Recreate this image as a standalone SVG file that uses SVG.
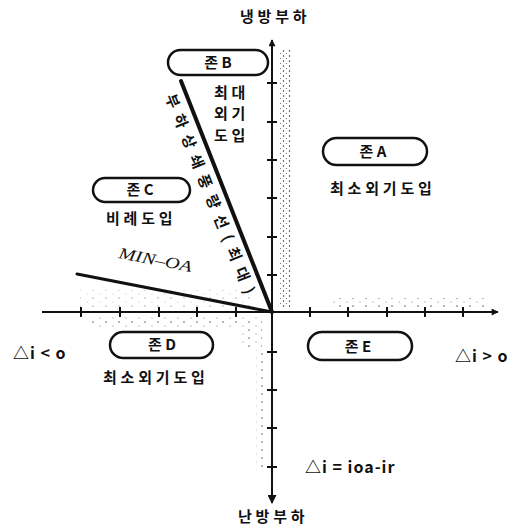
<svg xmlns="http://www.w3.org/2000/svg" width="523" height="530" viewBox="0 0 523 530">
<style>
.ko{font-family:"Noto Sans CJK KR","Noto Sans",sans-serif;font-weight:bold;fill:#111;}
.lbl{font-size:15px;letter-spacing:3.8px;}
.zt{font-size:15px;text-anchor:middle;}
.pill{fill:#fff;stroke:#111;stroke-width:2.5;}
.axis{stroke:#111;stroke-width:2;fill:none;}
.tick{stroke:#111;stroke-width:2;}
.math{font-family:"Noto Sans CJK KR","DejaVu Sans",sans-serif;font-weight:bold;font-size:16px;fill:#111;letter-spacing:1px;}
</style>
<defs>
<pattern id="dense" width="6" height="5" patternUnits="userSpaceOnUse">
<circle cx="1.5" cy="1" r="0.7" fill="#222"/>
<circle cx="4.5" cy="3.5" r="0.5" fill="#444"/>
</pattern>
<pattern id="sparse" width="13" height="8" patternUnits="userSpaceOnUse">
<circle cx="2" cy="2" r="0.7" fill="#333"/>
<circle cx="9" cy="6" r="0.5" fill="#555"/>
</pattern>
<marker id="ah" viewBox="0 0 10 10" refX="9" refY="5" markerWidth="9" markerHeight="7" markerUnits="userSpaceOnUse" orient="auto">
<path d="M0,0 L10,5 L0,10 z" fill="#111"/>
</marker>
<marker id="ahb" viewBox="0 0 10 10" refX="9" refY="5" markerWidth="22" markerHeight="9" markerUnits="userSpaceOnUse" orient="auto">
<path d="M0,0 L10,5 L0,10 z" fill="#111"/>
</marker>
</defs>
<rect width="523" height="530" fill="#fff"/>

<g id="stipple">
<rect x="278" y="50" width="14" height="258" fill="url(#dense)"/>
<rect x="330" y="298" width="155" height="9" fill="url(#sparse)"/>
<rect x="88" y="317" width="150" height="10" fill="url(#sparse)"/>
<rect x="242" y="317" width="20" height="30" fill="url(#sparse)"/>
<rect x="256" y="350" width="11" height="120" fill="url(#sparse)"/>
<rect x="80" y="290" width="170" height="18" fill="url(#sparse)" opacity="0.5"/>
</g>

<g id="connectors">
<line class="axis" x1="272" y1="502" x2="272" y2="40" marker-end="url(#ah)"/>
<line class="axis" x1="272" y1="478" x2="272" y2="503" stroke-width="3" marker-end="url(#ahb)"/>
<line class="axis" x1="42" y1="312" x2="498" y2="312" marker-end="url(#ah)"/>
<g class="tick">
<line x1="81" y1="307" x2="81" y2="317"/><line x1="120" y1="307" x2="120" y2="317"/><line x1="159" y1="307" x2="159" y2="317"/><line x1="197" y1="307" x2="197" y2="317"/><line x1="236" y1="307" x2="236" y2="317"/>
<line x1="310" y1="307" x2="310" y2="317"/><line x1="348" y1="307" x2="348" y2="317"/><line x1="387" y1="307" x2="387" y2="317"/><line x1="425" y1="307" x2="425" y2="317"/><line x1="463" y1="307" x2="463" y2="317"/>
<line x1="267" y1="83" x2="277" y2="83"/><line x1="267" y1="122" x2="277" y2="122"/><line x1="267" y1="160" x2="277" y2="160"/><line x1="267" y1="198" x2="277" y2="198"/><line x1="267" y1="237" x2="277" y2="237"/><line x1="267" y1="275" x2="277" y2="275"/>
<line x1="267" y1="352" x2="277" y2="352"/><line x1="267" y1="390" x2="277" y2="390"/><line x1="267" y1="428" x2="277" y2="428"/><line x1="267" y1="467" x2="277" y2="467"/>
</g>
<line id="max-line" x1="181" y1="81" x2="272" y2="312" stroke="#111" stroke-width="4" stroke-linecap="round"/>
<line id="min-oa-line" x1="77" y1="274" x2="272" y2="312" stroke="#111" stroke-width="3" stroke-linecap="round"/>
</g>

<g id="zoneB">
<rect class="pill" x="168" y="50" width="100" height="25" rx="12.5"/>
<text class="ko zt" x="218" y="68">존 B</text>
<text class="ko lbl" x="214" y="98">최대</text>
<text class="ko lbl" x="214" y="119">외기</text>
<text class="ko lbl" x="214" y="141">도입</text>
</g>
<g id="zoneA">
<rect class="pill" x="323" y="138" width="104" height="27" rx="13.5"/>
<text class="ko zt" x="373" y="157">존 A</text>
<text class="ko lbl" x="330" y="194">최소외기도입</text>
</g>
<g id="zoneC">
<rect class="pill" x="93" y="178" width="97" height="24" rx="12"/>
<text class="ko zt" x="140" y="195">존 C</text>
<text class="ko lbl" x="106" y="224">비례도입</text>
</g>
<g id="zoneD">
<rect class="pill" x="110" y="332" width="103" height="26" rx="13"/>
<text class="ko zt" x="162" y="350">존 D</text>
<text class="ko lbl" x="103" y="383">최소외기도입</text>
</g>
<g id="zoneE">
<rect class="pill" x="308" y="332" width="104" height="28" rx="14"/>
<text class="ko zt" x="358" y="352">존 E</text>
</g>

<g id="labels">
<text class="ko lbl" x="240" y="22">냉방부하</text>
<text class="ko lbl" x="238" y="522">난방부하</text>
<text x="118" y="265" transform="rotate(11 155 262)" font-family="Liberation Serif,serif" font-style="italic" font-size="16" textLength="74" lengthAdjust="spacingAndGlyphs" fill="#111">MIN–OA</text>
<text class="ko" x="205" y="196" font-size="15" text-anchor="middle" textLength="214" lengthAdjust="spacing" transform="rotate(68 205 196)">부하상쇄풍량선(최대)</text>
<text class="math" x="13" y="359">△i &lt; o</text>
<text class="math" x="455" y="362">△i &gt; o</text>
<text class="math" x="305" y="473">△i = ioa-ir</text>
</g>
</svg>
